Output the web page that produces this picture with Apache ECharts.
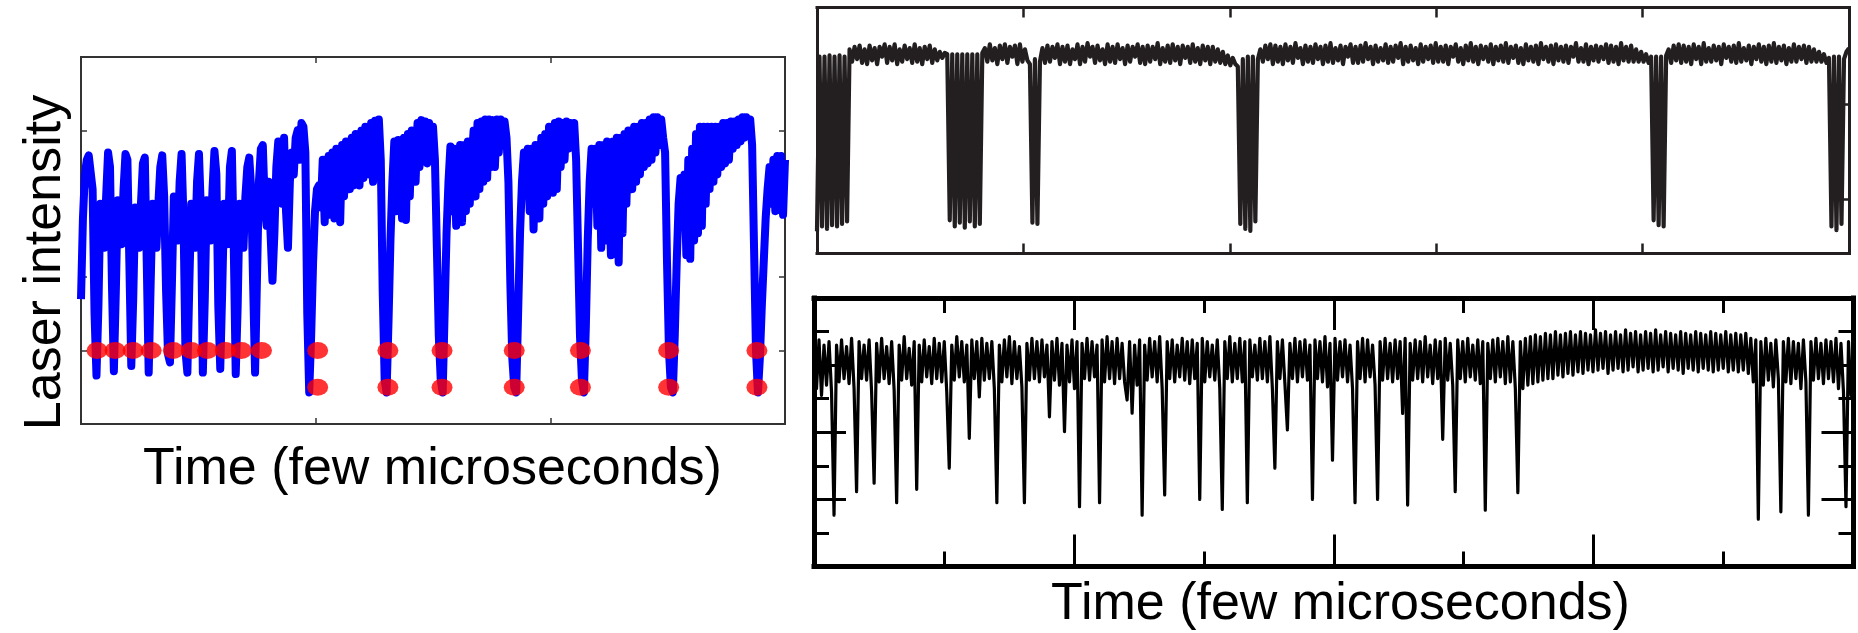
<!DOCTYPE html>
<html><head><meta charset="utf-8">
<script src="https://cdn.jsdelivr.net/npm/echarts@6/dist/echarts.min.js"></script>
<style>html,body{margin:0;padding:0;background:#fff}#c{width:1858px;height:633px}</style>
</head><body><div id="c"></div>
<script>
// ---- Panel A (left): laser intensity, uniformly sampled over 0..3 time units ----
const aIntensity = [
1.7,2.8,3.4,3.6,3.66,3.68,3.2,1.5,0.66,1.6,
3.0,2.7,2.4,3.1,3.7,3.5,1.9,0.72,1.8,3.05,
2.7,2.45,3.2,3.68,3.6,2.2,0.79,1.7,2.95,2.6,
2.4,3.0,3.55,3.63,2.2,0.70,1.9,3.0,2.6,2.4,
3.0,3.5,3.66,3.1,1.8,0.95,0.84,1.9,3.1,2.7,
2.5,3.3,3.68,2.8,1.0,0.70,1.9,3.0,2.6,2.4,
3.3,3.68,2.9,0.70,1.7,3.05,2.75,2.5,3.2,3.72,
3.4,1.6,0.75,1.8,3.0,2.6,2.45,3.5,3.72,2.4,
0.68,1.6,3.0,2.6,2.4,3.1,3.5,3.63,3.2,1.9,
0.70,2.0,3.3,3.75,3.8,3.0,2.7,3.3,2.6,1.95,
2.6,3.5,3.85,3.5,3.0,3.9,2.9,2.4,3.3,3.7,
3.4,3.9,4.0,3.6,4.1,4.05,3.7,1.5,0.43,1.2,
2.2,2.9,3.2,3.25,2.95,3.6,2.75,3.5,3.65,2.85,
3.7,2.8,3.75,3.1,2.75,3.8,3.1,3.85,3.6,3.2,
3.9,3.25,3.95,3.7,3.25,4.0,3.35,4.05,3.9,3.4,
4.1,3.3,4.13,3.8,4.15,3.6,1.8,0.6,0.43,1.4,
2.5,3.3,3.85,2.9,3.87,3.4,2.8,3.9,2.78,3.95,
3.1,4.0,3.7,3.3,4.1,3.5,4.14,3.6,4.12,3.55,
4.1,3.8,4.05,3.6,2.4,1.2,0.6,0.43,1.5,2.6,
3.3,3.78,2.9,3.75,2.7,3.5,3.8,2.75,3.8,2.9,
3.85,3.0,3.6,4.0,3.1,4.1,3.2,4.12,3.3,4.15,
3.35,4.15,3.5,4.14,3.5,4.15,3.7,4.15,3.8,4.12,
3.9,3.3,1.9,0.9,0.5,0.43,1.5,2.6,3.3,3.7,
3.2,3.75,2.9,3.75,2.65,3.8,3.3,2.8,3.9,3.0,
3.95,3.1,4.05,3.6,3.15,4.1,3.2,4.12,3.5,4.1,
3.6,4.12,3.75,4.1,3.9,4.1,3.6,2.4,1.2,0.6,
0.43,1.3,2.5,3.3,3.75,3.0,3.75,2.7,3.8,2.4,
3.8,2.5,3.85,3.2,2.3,3.85,2.5,3.9,2.2,3.9,
2.6,3.95,3.0,4.0,3.6,3.2,4.05,3.3,4.05,3.4,
4.1,3.5,4.1,3.55,4.15,3.6,4.18,3.7,4.18,3.8,
4.15,3.9,3.7,2.2,1.0,0.5,0.43,1.2,2.2,3.0,
3.35,2.8,3.4,2.3,3.6,2.25,3.75,2.5,3.95,2.6,
4.05,2.7,4.05,3.0,4.05,3.2,4.05,3.3,4.05,3.4,
4.05,3.5,4.1,3.55,4.1,3.6,4.12,3.75,4.12,3.8,
4.15,3.85,4.18,3.9,4.18,4.0,4.15,3.8,2.4,1.0,
0.43,0.9,1.6,2.2,2.8,3.2,3.5,3.0,3.6,2.9,
3.65,3.0,3.65,2.85,3.6
];
const aSpan = 3;
// threshold crossings (red markers)
const aSingleX = [0.0684,0.1453,0.2222,0.2991,0.3932,0.4701,0.5385,0.6154,0.6838,0.7692];
const aPairX = [1.0085,1.3077,1.5385,1.8462,2.1282,2.5043,2.8803];
const aUpperLevel = 1.0;
const aLowerLevel = 0.5;

// ---- Panel B (top right) ----
const bIntensity = [
0.9,8.0,1.1,8.0,1.0,8.05,1.15,8.0,1.1,8.05,1.2,8.0,1.3,
8.3,7.8,8.4,7.9,8.45,7.75,8.3,7.7,8.45,7.85,8.35,7.7,8.4,8.0,8.5,7.75,8.4,7.85,8.5,7.7,8.3,7.8,8.45,7.9,8.35,7.75,8.5,7.8,8.35,7.7,8.4,7.9,8.45,7.75,8.3,7.85,8.2,7.95,8.15,
8.1,1.35,8.1,1.1,8.1,1.25,8.1,1.05,8.1,1.3,8.1,1.1,8.1,1.2,8.15,
8.35,7.8,8.5,7.85,8.35,7.7,8.45,7.9,8.5,7.75,8.4,8.0,8.45,7.7,8.5,7.8,8.3,7.85,
7.7,1.25,7.9,1.2,7.8,
8.35,7.75,8.45,7.8,8.4,7.95,8.5,7.7,8.4,7.8,
8.45,7.7,8.3,7.9,8.5,7.7,8.4,7.8,8.55,8.0,
8.4,7.75,8.45,7.85,8.3,7.7,8.5,7.8,8.4,7.75,
8.5,7.9,8.35,7.7,8.45,7.8,8.4,8.0,8.5,7.75,
8.4,7.7,8.45,7.8,8.4,7.9,8.55,7.7,8.35,7.8,
8.45,7.75,8.5,7.85,8.4,7.7,8.45,7.95,8.4,7.75,
8.5,7.8,8.35,7.7,8.45,7.85,8.4,7.7,8.4,7.8,
8.3,7.75,8.2,7.7,8.05,7.65,7.95,7.7,
7.6,1.2,7.9,1.0,8.0,0.92,8.0,1.3,7.9,
8.3,7.8,8.45,7.9,8.5,7.7,8.45,7.8,8.4,7.7,
8.5,7.85,8.4,7.75,8.55,7.95,8.35,7.7,8.45,7.8,
8.4,7.75,8.5,7.9,8.4,7.7,8.45,7.8,8.55,7.75,
8.35,7.85,8.45,7.7,8.4,8.0,8.5,7.75,8.4,7.75,
8.45,7.8,8.55,7.9,8.4,7.7,8.45,7.8,8.35,7.85,
8.5,7.75,8.4,7.8,8.45,7.95,8.55,7.7,8.4,7.8,
8.45,7.85,8.35,7.7,8.5,7.8,8.4,7.9,8.45,7.75,
8.55,7.8,8.4,7.8,8.45,7.7,8.4,8.0,8.5,7.8,
8.35,7.7,8.45,7.85,8.55,7.8,8.4,7.7,8.45,7.9,
8.4,7.8,8.5,7.7,8.4,7.85,8.45,7.8,8.55,7.75,
8.4,7.95,8.45,7.75,8.35,7.7,8.5,7.85,8.4,7.8,
8.45,7.7,8.55,7.9,8.4,7.8,8.45,7.7,8.5,7.85,
8.4,7.8,8.45,7.75,8.4,8.0,8.55,7.8,8.35,7.8,
8.5,7.7,8.4,7.85,8.45,7.8,8.4,7.9,8.5,7.75,
8.45,7.8,8.4,7.7,8.55,7.85,8.4,7.8,8.45,7.8,
8.3,7.8,8.2,7.8,8.1,7.75,8.0,
1.35,8.0,1.15,8.0,1.1,8.05,
8.3,7.75,8.45,7.85,8.5,7.75,8.45,7.8,8.4,7.7,
8.5,7.9,8.4,7.7,8.55,7.8,8.35,7.8,8.45,7.85,
8.4,7.7,8.5,7.95,8.4,7.8,8.45,7.75,8.55,7.8,
8.35,7.85,8.45,7.7,8.4,7.9,8.5,7.8,8.4,7.7,
8.45,7.8,8.55,7.75,8.4,7.85,8.45,7.7,8.35,7.8,
8.5,7.8,8.4,7.9,8.45,7.75,8.4,7.8,8.3,7.8,
8.2,7.8,8.1,7.75,7.95,
1.1,8.0,0.95,8.0,1.2,7.9,
8.2,8.35
];
const bSpan = 5;
const bYTicks = [2.22, 6.08];

// ---- Panel C (bottom right) ----
const cIntensity = [
6.5,5.3,6.75,5.1,6.6,5.4,6.7,5.2,1.53,6.6,
5.5,6.75,5.6,6.55,5.45,6.8,5.3,2.23,6.7,5.6,
6.6,5.55,6.75,5.2,2.48,6.65,5.5,6.8,5.6,6.55,
5.45,6.7,5.25,1.9,6.6,5.55,6.85,5.6,6.5,5.4,
6.7,2.3,6.6,5.5,6.75,5.65,6.55,5.45,6.8,5.6,
6.65,5.5,6.7,5.2,2.93,6.6,5.55,6.85,5.65,6.7,
5.5,6.6,3.82,6.75,5.6,6.7,5.05,6.8,5.55,6.65,
5.6,6.7,5.3,1.9,6.6,5.5,6.75,5.65,6.85,5.45,
6.7,5.6,6.55,5.35,1.9,6.65,5.55,6.8,5.6,6.7,
5.5,6.75,5.65,6.6,4.46,6.7,5.55,6.8,5.4,6.65,
4.02,6.6,5.5,6.75,5.3,6.7,1.78,6.65,5.6,6.8,
5.55,6.7,5.65,6.6,1.9,6.75,5.5,6.85,5.6,6.7,
5.45,6.8,5.6,6.65,5.5,4.96,6.7,4.57,6.6,5.4,
6.75,1.53,6.6,5.55,6.8,5.65,6.7,5.5,6.85,5.3,
2.13,6.7,5.6,6.75,5.5,6.6,5.65,6.8,5.55,6.7,
5.45,6.75,5.6,6.65,2.0,6.8,5.5,6.7,5.65,6.6,
5.55,6.75,5.3,1.7,6.7,5.6,6.85,5.5,6.65,5.6,
6.8,5.5,6.7,1.9,6.75,5.65,6.6,5.55,6.8,5.6,
6.7,5.5,6.85,5.3,2.93,6.7,5.6,6.75,5.45,4.07,
6.65,5.6,6.8,5.5,6.7,5.65,6.75,5.55,6.6,2.0,
6.75,5.6,6.7,5.5,6.85,5.35,6.65,3.17,6.8,5.55,
6.7,5.65,6.75,5.5,6.6,5.3,1.9,6.7,5.6,6.8,
5.5,6.75,5.65,6.6,5.4,2.0,6.7,5.55,6.8,5.6,
6.65,5.5,6.75,5.6,6.7,4.56,6.8,1.83,6.65,5.55,
6.75,5.6,6.7,5.5,6.85,5.65,6.6,5.45,6.75,5.6,
6.7,3.79,6.8,5.55,6.65,5.4,2.23,6.75,5.6,6.7,
5.5,6.8,5.65,6.6,5.55,6.75,5.45,6.7,1.68,6.65,
5.6,6.75,5.5,6.8,5.65,6.7,5.45,6.85,5.5,6.7,
5.3,2.2,6.7,5.3,6.8,5.4,6.85,5.45,6.9,5.5,
6.85,5.55,6.95,5.6,6.9,5.6,7.0,5.7,6.9,5.65,
6.95,5.75,7.0,5.7,6.9,5.8,7.0,5.75,6.95,5.85,
6.9,5.8,7.05,5.85,6.95,5.9,7.0,5.75,6.9,5.85,
7.0,5.9,6.9,5.8,7.05,5.85,6.95,5.95,7.0,5.8,
6.9,5.85,7.0,5.9,6.95,5.8,7.05,5.85,6.9,5.95,
7.0,5.8,6.95,5.9,6.9,5.85,7.0,5.75,6.95,5.9,
6.9,5.85,7.0,5.8,6.95,5.9,6.9,5.85,7.0,5.8,
6.95,5.85,6.9,5.9,7.0,5.8,6.9,5.85,6.95,5.8,
6.9,5.85,6.95,5.75,6.8,5.5,6.75,1.41,6.7,5.4,
6.8,5.55,6.65,5.35,6.75,5.6,1.63,6.7,5.5,6.8,
5.45,6.7,5.6,6.65,5.3,6.75,5.5,1.53,6.7,5.55,
6.8,5.6,6.65,5.45,6.75,5.6,6.7,5.5,6.8,5.3,
6.65,5.2,1.78,6.7,5.1,6.6
];
const cSpan = 8;

// ---- texts ----
const yTitle = 'Laser intensity';
const xTitle = 'Time (few microseconds)';

const FONT = '"Liberation Sans", Arial, Helvetica, sans-serif';

function sampled(values, span) {
  const n = values.length - 1;
  return values.map((v, i) => [i * span / n, v]);
}

function axis(gridIndex, position, min, max, st) {
  const o = {
    type: 'value', gridIndex, position, min, max,
    axisLine: { show: true, onZero: false, lineStyle: { color: st.color, width: st.frame, cap: 'square' } },
    axisTick: { show: st.tick > 0, inside: true, length: st.tick, lineStyle: { color: st.color, width: st.tickW } },
    minorTick: st.minor ? { show: true, splitNumber: 2, length: st.minor, lineStyle: { color: st.color, width: st.tickW } } : { show: false },
    axisLabel: { show: false },
    splitLine: { show: false },
    splitArea: { show: false }
  };
  if (st.interval) o.interval = st.interval;
  if (st.custom) o.axisTick.customValues = st.custom;
  return o;
}

const stA = { color: '#333', frame: 2, tick: 6, tickW: 1.5, interval: 1 };
const stB = { color: '#231f20', frame: 3, tick: 10, tickW: 2.5, interval: 1 };
const stBy = { color: '#231f20', frame: 3, tick: 7, tickW: 2.5, custom: bYTicks };
const stC = { color: '#000', frame: 5, tick: 32, tickW: 3, minor: 15, interval: 2 };

const chart = echarts.init(document.getElementById('c'), null, { width: 1858, height: 633 });
chart.setOption({
  animation: false,
  backgroundColor: '#fff',
  grid: [
    { left: 81, top: 57, width: 704, height: 367, containLabel: false, outerBoundsMode: 'none' },
    { left: 817, top: 7.5, width: 1032, height: 246, containLabel: false, outerBoundsMode: 'none' },
    { left: 814, top: 298, width: 1039.5, height: 268.5, containLabel: false, outerBoundsMode: 'none' }
  ],
  xAxis: [
    axis(0, 'bottom', 0, aSpan, stA), axis(0, 'top', 0, aSpan, stA),
    axis(1, 'bottom', 0, bSpan, stB), axis(1, 'top', 0, bSpan, stB),
    axis(2, 'bottom', 0, cSpan, stC), axis(2, 'top', 0, cSpan, stC)
  ],
  yAxis: [
    axis(0, 'left', 0, 5, stA), axis(0, 'right', 0, 5, stA),
    axis(1, 'left', 0, 10, stBy), axis(1, 'right', 0, 10, stBy),
    axis(2, 'left', 0, 8, stC), axis(2, 'right', 0, 8, stC)
  ],
  series: [
    { type: 'line', xAxisIndex: 0, yAxisIndex: 0, data: sampled(aIntensity, aSpan), symbol: 'none',
      lineStyle: { color: '#0000ff', width: 8, join: 'round' }, z: 2 },
    { type: 'scatter', xAxisIndex: 0, yAxisIndex: 0, symbol: 'circle', symbolSize: [21, 17],
      itemStyle: { color: '#ff0000' }, z: 3,
      data: aSingleX.map(x => [x, aUpperLevel]).concat(aPairX.map(x => [x, aUpperLevel]), aPairX.map(x => [x, aLowerLevel])) },
    { type: 'line', xAxisIndex: 2, yAxisIndex: 2, data: sampled(bIntensity, bSpan), symbol: 'none',
      lineStyle: { color: '#231f20', width: 4.2, join: 'round' }, z: 2 },
    { type: 'line', xAxisIndex: 4, yAxisIndex: 4, data: sampled(cIntensity, cSpan), symbol: 'none',
      lineStyle: { color: '#000', width: 3.2, join: 'round' }, z: 2 }
  ],
  graphic: [
    { type: 'text', x: 46, y: 262.5, rotation: Math.PI / 2,
      style: { text: yTitle, font: '52px ' + FONT, fill: '#000', align: 'center', verticalAlign: 'middle', textAlign: 'center', textVerticalAlign: 'middle' } },
    { type: 'text', x: 432.5, y: 469.5,
      style: { text: xTitle, font: '52px ' + FONT, fill: '#000', align: 'center', verticalAlign: 'middle', textAlign: 'center', textVerticalAlign: 'middle' } },
    { type: 'text', x: 1340.5, y: 604.5,
      style: { text: xTitle, font: '52px ' + FONT, fill: '#000', align: 'center', verticalAlign: 'middle', textAlign: 'center', textVerticalAlign: 'middle' } }
  ]
});
</script>
</body></html>
